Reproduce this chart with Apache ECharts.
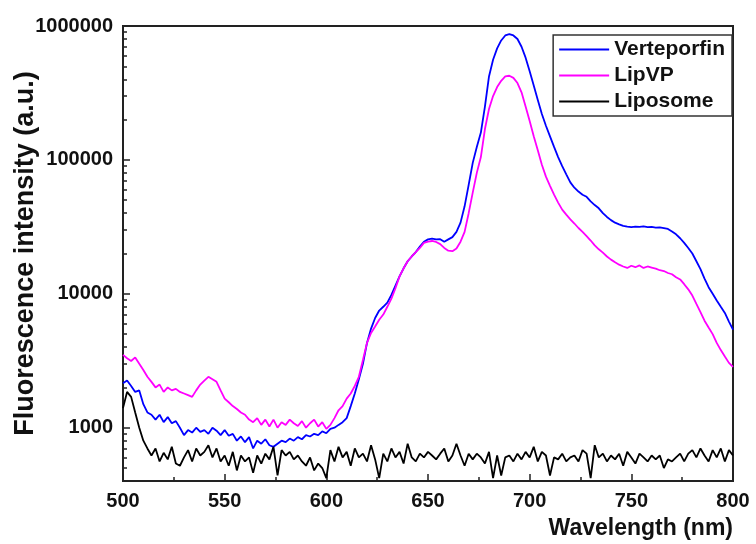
<!DOCTYPE html>
<html>
<head>
<meta charset="utf-8">
<script src="https://cdn.jsdelivr.net/npm/echarts@6/dist/echarts.min.js"></script>
<style>
html, body { margin: 0; padding: 0; background: #fff; }
#chart { width: 756px; height: 544px; }
</style>
</head>
<body>
<div id="chart"></div>
<script>
//波长 (nm)
var wavelength = [
	500,502,504,506,508,510,512,514,516,518,520,522,524,526,528,530,532,534,536,538,
	540,542,544,546,548,550,552,554,556,558,560,562,564,566,568,570,572,574,576,578,
	580,582,584,586,588,590,592,594,596,598,600,602,604,606,608,610,612,614,616,618,
	620,622,624,626,628,630,632,634,636,638,640,642,644,646,648,650,652,654,656,658,
	660,662,664,666,668,670,672,674,676,678,680,682,684,686,688,690,692,694,696,698,
	700,702,704,706,708,710,712,714,716,718,720,722,724,726,728,730,732,734,736,738,
	740,742,744,746,748,750,752,754,756,758,760,762,764,766,768,770,772,774,776,778,
	780,782,784,786,788,790,792,794,796,798,800
];

//Verteporfin
var verteporfin = [
	2150,2250,2050,1850,1900,1500,1300,1250,1150,1250,1100,1200,1080,1120,1000,880,960,920,1000,930,
	960,900,1000,950,880,960,870,900,800,860,780,850,700,800,760,820,740,720,760,800,
	780,830,800,850,820,880,860,900,880,940,910,980,1000,1050,1100,1180,1450,1800,2300,3000,
	4300,5500,6600,7500,8000,8600,9800,11500,13500,15500,17500,19000,20500,22500,24500,25500,25800,25500,25600,24500,
	25500,26500,29000,34000,45000,65000,95000,125000,160000,250000,420000,560000,680000,780000,850000,870000,850000,800000,700000,580000,
	460000,360000,280000,220000,180000,150000,125000,105000,90000,78000,68000,62000,58000,55000,53000,49000,46000,43500,40000,37500,
	35500,34000,33000,32200,31800,31500,31800,31600,31900,31500,31600,31200,31300,30900,30500,29200,27800,26000,24000,22000,
	20000,17500,15300,13000,11200,10000,8900,8000,7200,6200,5400
];

//LipVP
var lipVP = [
	3500,3300,3150,3350,3000,2700,2400,2200,2000,2100,1850,2000,1900,1950,1850,1800,1750,1700,1900,2100,
	2250,2400,2300,2200,1900,1650,1550,1450,1380,1300,1250,1150,1100,1180,1050,1150,1020,1150,1000,1100,
	1050,1150,1080,1030,1120,1000,1080,1150,1020,1100,980,1050,1180,1350,1450,1650,1800,2050,2400,3200,
	4300,5100,5700,6400,7000,8000,9200,11000,13500,15500,17500,19000,20500,22000,24000,24500,24800,24400,23500,22000,
	21000,20800,21800,24500,29000,40000,57000,80000,105000,170000,240000,300000,350000,390000,420000,425000,410000,375000,320000,250000,
	195000,150000,118000,92000,75000,64000,55000,48000,42500,39000,36000,33500,31000,29000,27000,25000,23000,21500,20300,19000,
	18000,17200,16500,16000,15600,16200,15800,16300,15600,16000,15700,15400,15000,14800,14300,14000,13300,12800,11800,10800,
	9700,8400,7300,6300,5600,5000,4300,3800,3400,3050,2850
];

//Liposome
var liposome = [
	1400,1850,1700,1300,1000,800,700,620,700,560,650,580,720,540,520,600,680,560,700,620,
	660,740,600,700,560,620,520,660,480,620,560,600,460,620,540,640,580,720,440,680,
	620,660,580,620,560,520,600,480,540,500,420,680,560,720,600,660,520,700,600,640,
	560,740,580,420,640,560,700,600,660,540,760,600,560,640,600,660,620,580,640,700,
	560,620,760,620,520,640,580,640,600,540,660,420,620,440,600,620,560,640,580,660,
	600,720,560,660,620,440,600,580,640,560,600,620,560,680,640,420,740,600,640,560,
	620,580,640,520,660,600,540,640,600,560,620,580,620,500,580,560,600,640,560,640,
	680,600,700,620,560,680,600,700,560,680,620
];

var seriesNames = ['Verteporfin', 'LipVP', 'Liposome'];
var seriesColors = ['#0000ff', '#ff00ff', '#000000'];

//y轴刻度
var yMajorTicks = [1000, 10000, 100000, 1000000];
var yMinorTicks = [
	500, 600, 700, 800, 900,
	2000, 3000, 4000, 5000, 6000, 7000, 8000, 9000,
	20000, 30000, 40000, 50000, 60000, 70000, 80000, 90000,
	200000, 300000, 400000, 500000, 600000, 700000, 800000, 900000
];

var fontFamily = 'Arial, "Liberation Sans", sans-serif';

//组合成[x, y]数据
function pairData(values) {
	var res = [];
	for (var i = 0; i < wavelength.length; i++) {
		res.push([wavelength[i], values[i]]);
	}
	return res;
}

var chart = echarts.init(document.getElementById('chart'));
var option = {
	animation: false,
	backgroundColor: '#ffffff',
	color: seriesColors,
	grid: {
		left: 123,
		right: 23,
		top: 26,
		bottom: 63,
		outerBoundsMode: 'none',
		show: true,
		borderColor: '#222',
		borderWidth: 2
	},
	legend: {
		data: seriesNames,
		orient: 'vertical',
		right: 24,
		top: 35,
		padding: [4, 7, 4, 6],
		itemGap: 5,
		icon: 'rect',
		itemWidth: 50,
		itemHeight: 2,
		borderColor: '#333',
		borderWidth: 1.5,
		textStyle: {
			fontFamily: fontFamily,
			fontSize: 21,
			fontWeight: 'bold',
			color: '#111'
		}
	},
	xAxis: {
		type: 'value',
		min: 500,
		max: 800,
		interval: 50,
		name: 'Wavelength (nm)',
		nameLocation: 'end',
		nameGap: 0,
		nameMoveOverlap: false,
		nameTextStyle: {
			fontFamily: fontFamily,
			fontSize: 23,
			fontWeight: 'bold',
			color: '#111',
			align: 'right',
			verticalAlign: 'top',
			padding: [36, 0, 0, 0]
		},
		axisLine: { lineStyle: { color: '#222', width: 2 } },
		axisTick: { inside: true, length: 7, lineStyle: { color: '#222', width: 1.5 } },
		minorTick: { show: true, splitNumber: 2, length: 4, lineStyle: { color: '#222', width: 1.5 } },
		axisLabel: {
			fontFamily: fontFamily,
			fontSize: 20,
			fontWeight: 'bold',
			color: '#111',
			margin: 10
		},
		splitLine: { show: false }
	},
	yAxis: [
		{
			type: 'log',
			logBase: 10,
			min: 400,
			max: 1000000,
			position: 'left',
			name: 'Fluorescence intensity (a.u.)',
			nameLocation: 'middle',
			nameGap: 84,
			nameMoveOverlap: false,
			nameTextStyle: {
				fontFamily: fontFamily,
				fontSize: 27,
				fontWeight: 'bold',
				color: '#111'
			},
			axisLine: { show: true, lineStyle: { color: '#222', width: 2 } },
			axisTick: { inside: true, length: 7, customValues: yMajorTicks, lineStyle: { color: '#222', width: 1.5 } },
			axisLabel: {
				customValues: yMajorTicks,
				fontFamily: fontFamily,
				fontSize: 20,
				fontWeight: 'bold',
				color: '#111',
				margin: 10,
				formatter: function(v) {
					return String(Math.round(v));
				}
			},
			splitLine: { show: false }
		},
		{
			//次刻度
			type: 'log',
			logBase: 10,
			min: 400,
			max: 1000000,
			position: 'left',
			offset: 0,
			axisLine: { show: false },
			axisTick: { inside: true, length: 4, customValues: yMinorTicks, lineStyle: { color: '#222', width: 1.5 } },
			axisLabel: { show: false },
			splitLine: { show: false }
		}
	],
	series: []
};

var seriesData = [verteporfin, lipVP, liposome];
for (var i = 0; i < seriesNames.length; i++) {
	option.series.push({
		name: seriesNames[i],
		type: 'line',
		yAxisIndex: 0,
		symbol: 'none',
		data: pairData(seriesData[i]),
		lineStyle: { width: 1.8, color: seriesColors[i] }
	});
}

chart.setOption(option);
</script>
</body>
</html>
